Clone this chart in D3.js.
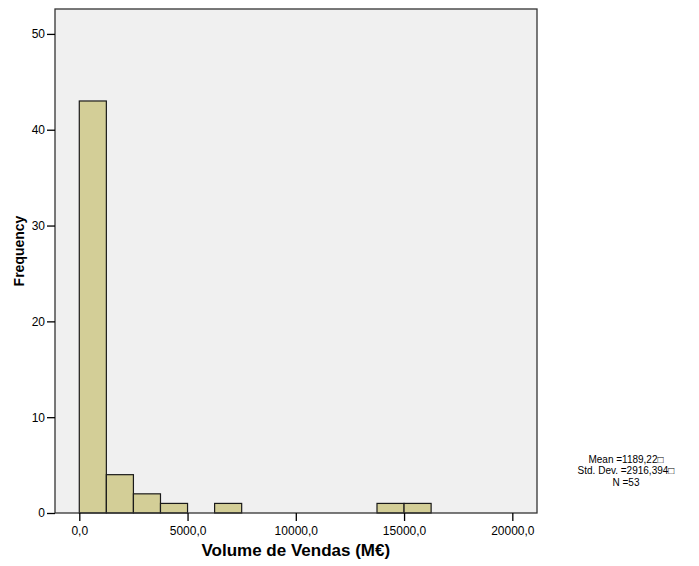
<!DOCTYPE html>
<html>
<head>
<meta charset="utf-8">
<script src="https://cdn.jsdelivr.net/npm/d3@7"></script>
<style>
  html, body { margin: 0; padding: 0; background: #ffffff; }
  svg { display: block; font-family: Arial, "Liberation Sans", sans-serif; }
</style>
</head>
<body>
<svg id="chart" width="699" height="566"></svg>
<script>
// Histogram bins (lower edge, upper edge) and counts
const binStarts = [0, 1250, 2500, 3750, 6250, 13750, 15000];
const binEnds   = [1250, 2500, 3750, 5000, 7500, 15000, 16250];
const counts    = [43, 4, 2, 1, 1, 1, 1];

const xTicks = [0, 5000, 10000, 15000, 20000];
const yTicks = [0, 10, 20, 30, 40, 50];

const statLines = ["Mean =1189,22□", "Std. Dev. =2916,394□", "N =53"];

const xTitle = "Volume de Vendas (M€)";
const yTitle = "Frequency";

const bins = binStarts.map((s, i) => ({ x0: s, x1: binEnds[i], n: counts[i] }));

const svg = d3.select("#chart");
const plot = { left: 55, top: 9, right: 537, bottom: 513 };

const x = d3.scaleLinear().domain([-1122, 21140]).range([plot.left, plot.right]);
const y = d3.scaleLinear().domain([0, 52.6]).range([plot.bottom, plot.top]);

// Plot background
svg.append("rect")
  .attr("x", plot.left).attr("y", plot.top)
  .attr("width", plot.right - plot.left).attr("height", plot.bottom - plot.top)
  .attr("fill", "#f0f0f0");

// Bars
svg.append("g").selectAll("rect").data(bins).join("rect")
  .attr("x", d => x(d.x0))
  .attr("y", d => y(d.n))
  .attr("width", d => x(d.x1) - x(d.x0))
  .attr("height", d => y(0) - y(d.n))
  .attr("fill", "#d3ce97")
  .attr("stroke", "#1a1a1a")
  .attr("stroke-width", 1.2);

// Plot frame
svg.append("rect")
  .attr("x", plot.left).attr("y", plot.top)
  .attr("width", plot.right - plot.left).attr("height", plot.bottom - plot.top)
  .attr("fill", "none")
  .attr("stroke", "#333")
  .attr("stroke-width", 1.3);

const fmt = v => d3.format(".1f")(v).replace(".", ",");

// X axis
const xAxis = svg.append("g")
  .attr("transform", `translate(0,${plot.bottom})`)
  .call(d3.axisBottom(x).tickValues(xTicks).tickFormat(fmt).tickSize(8).tickPadding(5));
xAxis.select(".domain").remove();
xAxis.selectAll(".tick line").attr("stroke", "#000").attr("stroke-width", 1.3);
xAxis.selectAll(".tick text").attr("font-size", 12).attr("fill", "#000")
  .attr("font-family", "Arial, 'Liberation Sans', sans-serif");

// Y axis
const yAxis = svg.append("g")
  .attr("transform", `translate(${plot.left},0)`)
  .call(d3.axisLeft(y).tickValues(yTicks).tickFormat(d3.format("d")).tickSize(8).tickPadding(2));
yAxis.select(".domain").remove();
yAxis.selectAll(".tick line").attr("stroke", "#000").attr("stroke-width", 1.3);
yAxis.selectAll(".tick text").attr("font-size", 12).attr("fill", "#000")
  .attr("font-family", "Arial, 'Liberation Sans', sans-serif");

// Axis titles
svg.append("text")
  .attr("x", (x(0) + x(20000)) / 2).attr("y", 556)
  .attr("text-anchor", "middle")
  .attr("font-size", 17).attr("font-weight", "bold")
  .text(xTitle);

svg.append("text")
  .attr("transform", "translate(24,251) rotate(-90)")
  .attr("text-anchor", "middle")
  .attr("font-size", 14).attr("font-weight", "bold")
  .text(yTitle);

// Summary statistics, one text element per line
svg.append("g").selectAll("text").data(statLines).join("text")
  .attr("x", 626)
  .attr("y", (d, i) => 462.5 + i * 11.5)
  .attr("text-anchor", "middle")
  .attr("font-size", 10)
  .attr("fill", "#000")
  .text(d => d);
</script>
</body>
</html>
